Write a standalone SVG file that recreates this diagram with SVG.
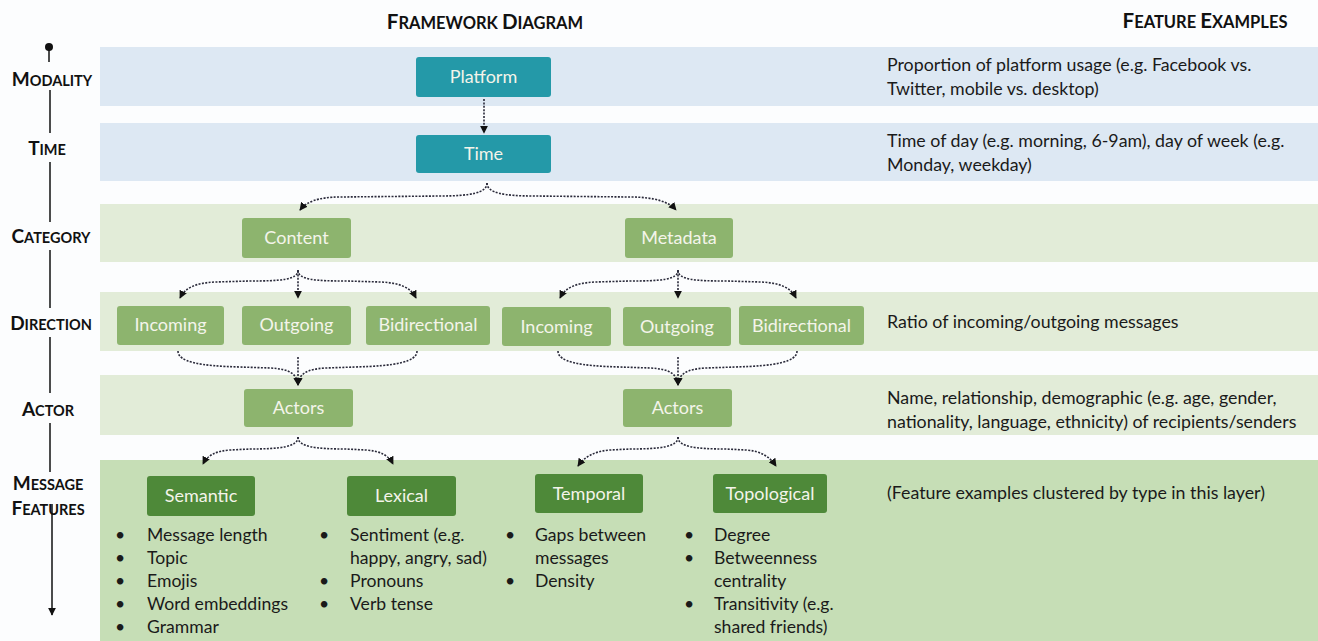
<svg xmlns="http://www.w3.org/2000/svg" width="1318" height="641" viewBox="0 0 1318 641">
<defs>
<style>
.hdr{font-family:Lato,"Liberation Sans",sans-serif;font-weight:bold;fill:#111;}
.lbl{font-family:Lato,"Liberation Sans",sans-serif;font-weight:bold;fill:#111;text-anchor:middle;}
.big{font-size:19px;}
.sm{font-size:14.5px;}
.nd{font-family:Lato,"Liberation Sans",sans-serif;font-size:18px;fill:#F4F4EA;text-anchor:middle;}
.ex{font-family:Lato,"Liberation Sans",sans-serif;font-size:17.8px;fill:#1a1a1a;}
.bl{font-family:Lato,"Liberation Sans",sans-serif;font-size:17.6px;fill:#1a1a1a;}
.teal{fill:#2499A8;}
.lg{fill:#8DB46E;}
.dg{fill:#4E8939;}
.con{fill:none;stroke:#2a2a3a;stroke-width:1.6;stroke-dasharray:2 1.4;marker-end:url(#ah);}
.axis{stroke:#111;stroke-width:1.5;fill:none;}
</style>
<marker id="ah" viewBox="0 0 10 10" refX="9" refY="5" markerWidth="8" markerHeight="8" markerUnits="userSpaceOnUse" orient="auto">
<path d="M0,0 L10,5 L0,10 z" fill="#111"/>
</marker>
<marker id="axh" viewBox="0 0 10 10" refX="9" refY="5" markerWidth="8" markerHeight="8" markerUnits="userSpaceOnUse" orient="auto">
<path d="M0,0 L10,5 L0,10 z" fill="#111"/>
</marker>
</defs>
<rect x="0" y="0" width="1318" height="641" fill="#FCFDFE"/>

<g id="bands">
<rect x="100" y="47" width="1218" height="59" fill="#DDE8F3"/>
<rect x="100" y="123" width="1218" height="58" fill="#DDE8F3"/>
<rect x="100" y="204" width="1218" height="58" fill="#E2ECD8"/>
<rect x="100" y="292" width="1218" height="59" fill="#E2ECD8"/>
<rect x="100" y="375" width="1218" height="60" fill="#E2ECD8"/>
<rect x="100" y="460" width="1218" height="181" fill="#C6DEB6"/>
</g>

<g id="headers">
<text class="hdr" x="485" y="29" text-anchor="middle"><tspan font-size="20.5">F</tspan><tspan font-size="16.5">RAMEWORK </tspan><tspan font-size="20.5">D</tspan><tspan font-size="16.5">IAGRAM</tspan></text>
<text class="hdr" x="1205" y="28" text-anchor="middle"><tspan font-size="20.5">F</tspan><tspan font-size="16.5">EATURE </tspan><tspan font-size="20.5">E</tspan><tspan font-size="16.5">XAMPLES</tspan></text>
</g>

<g id="axis">
<circle cx="49" cy="47" r="4" fill="#111"/>
<line class="axis" x1="49" y1="47" x2="49" y2="62"/>
<line class="axis" x1="50" y1="90" x2="50" y2="133"/>
<line class="axis" x1="50" y1="162" x2="50" y2="222"/>
<line class="axis" x1="50" y1="250" x2="50" y2="308"/>
<line class="axis" x1="50" y1="337" x2="50" y2="393"/>
<line class="axis" x1="50" y1="423" x2="50" y2="472"/>
<line class="axis" x1="52" y1="504" x2="52" y2="615" marker-end="url(#axh)"/>
<text class="lbl" x="52" y="86"><tspan class="big">M</tspan><tspan class="sm">ODALITY</tspan></text>
<text class="lbl" x="47" y="155"><tspan class="big">T</tspan><tspan class="sm">IME</tspan></text>
<text class="lbl" x="51" y="243"><tspan class="big">C</tspan><tspan class="sm">ATEGORY</tspan></text>
<text class="lbl" x="51" y="330"><tspan class="big">D</tspan><tspan class="sm">IRECTION</tspan></text>
<text class="lbl" x="48" y="416"><tspan class="big">A</tspan><tspan class="sm">CTOR</tspan></text>
<text class="lbl" x="48" y="490"><tspan class="big">M</tspan><tspan class="sm">ESSAGE</tspan></text>
<text class="lbl" x="48" y="515"><tspan class="big">F</tspan><tspan class="sm">EATURES</tspan></text>
</g>

<g id="connectors">
<path class="con" d="M484,99 L484,133"/>
<path class="con" d="M487,183 C487,193 470,196 440,196 L340,197 C318,197 306,202 300,210"/>
<path class="con" d="M487,183 C487,193 504,196 534,196 L630,197 C655,197 669,202 676,210"/>
<path class="con" d="M298,270 C298,280 280,281 250,281 L215,282 C195,283 185,288 180,298"/>
<path class="con" d="M298,271 L298,298"/>
<path class="con" d="M298,270 C298,280 316,281 346,281 L381,282 C401,283 411,288 416,298"/>
<path class="con" d="M678,270 C678,280 660,281 630,281 L595,282 C575,283 565,288 560,298"/>
<path class="con" d="M678,271 L678,298"/>
<path class="con" d="M678,270 C678,280 696,281 726,281 L761,282 C781,283 791,288 796,298"/>
<path class="con" d="M178,351 C178,362 200,366 240,367 L270,368 C290,369 297,374 298,385"/>
<path class="con" d="M417,351 C417,362 395,366 355,367 L326,368 C306,369 299,374 298,385"/>
<path class="con" d="M298,357 L298,385"/>
<path class="con" d="M558,351 C558,362 580,366 620,367 L650,368 C670,369 677,374 678,385"/>
<path class="con" d="M797,351 C797,362 775,366 735,367 L706,368 C686,369 679,374 678,385"/>
<path class="con" d="M678,357 L678,385"/>
<path class="con" d="M298,437 C298,447 280,449 250,449 L230,450 C215,451 207,456 203,464"/>
<path class="con" d="M298,437 C298,447 316,449 346,449 L366,450 C381,451 389,456 393,464"/>
<path class="con" d="M678,437 C678,447 660,449 630,449 L610,450 C595,451 584,457 578,466"/>
<path class="con" d="M678,437 C678,447 696,449 726,449 L746,450 C761,451 770,457 776,466"/>
</g>

<g id="platform"><rect class="teal" x="416" y="57" width="135" height="40" rx="3"/><text class="nd" x="483.5" y="83">Platform</text></g>
<g id="time"><rect class="teal" x="416" y="135" width="135" height="38" rx="3"/><text class="nd" x="483.5" y="160">Time</text></g>
<g id="content"><rect class="lg" x="242" y="218" width="109" height="40" rx="3"/><text class="nd" x="296.5" y="244">Content</text></g>
<g id="metadata"><rect class="lg" x="625" y="218" width="108" height="40" rx="3"/><text class="nd" x="679" y="244">Metadata</text></g>
<g id="incoming1"><rect class="lg" x="117" y="306" width="107" height="39" rx="3"/><text class="nd" x="170.5" y="331">Incoming</text></g>
<g id="outgoing1"><rect class="lg" x="242" y="306" width="109" height="39" rx="3"/><text class="nd" x="296.5" y="331">Outgoing</text></g>
<g id="bidirectional1"><rect class="lg" x="366" y="306" width="124" height="39" rx="3"/><text class="nd" x="428" y="331">Bidirectional</text></g>
<g id="incoming2"><rect class="lg" x="502" y="307" width="109" height="39" rx="3"/><text class="nd" x="556.5" y="333">Incoming</text></g>
<g id="outgoing2"><rect class="lg" x="623" y="307" width="108" height="39" rx="3"/><text class="nd" x="677" y="333">Outgoing</text></g>
<g id="bidirectional2"><rect class="lg" x="739" y="306" width="125" height="39" rx="3"/><text class="nd" x="801.5" y="332">Bidirectional</text></g>
<g id="actors1"><rect class="lg" x="244" y="389" width="109" height="38" rx="3"/><text class="nd" x="298.5" y="414">Actors</text></g>
<g id="actors2"><rect class="lg" x="623" y="389" width="109" height="38" rx="3"/><text class="nd" x="677.5" y="414">Actors</text></g>
<g id="semantic"><rect class="dg" x="147" y="476" width="108" height="40" rx="3"/><text class="nd" x="201" y="502">Semantic</text></g>
<g id="lexical"><rect class="dg" x="347" y="476" width="109" height="40" rx="3"/><text class="nd" x="401.5" y="502">Lexical</text></g>
<g id="temporal"><rect class="dg" x="535" y="474" width="108" height="39" rx="3"/><text class="nd" x="589" y="500">Temporal</text></g>
<g id="topological"><rect class="dg" x="713" y="474" width="114" height="39" rx="3"/><text class="nd" x="770" y="500">Topological</text></g>

<g id="lists">
<g class="bl">
<text x="115" y="541">•</text><text x="147" y="541">Message length</text>
<text x="115" y="564">•</text><text x="147" y="564">Topic</text>
<text x="115" y="587">•</text><text x="147" y="587">Emojis</text>
<text x="115" y="610">•</text><text x="147" y="610">Word embeddings</text>
<text x="115" y="633">•</text><text x="147" y="633">Grammar</text>
<text x="319" y="541">•</text><text x="350" y="541">Sentiment (e.g.</text>
<text x="350" y="564">happy, angry, sad)</text>
<text x="319" y="587">•</text><text x="350" y="587">Pronouns</text>
<text x="319" y="610">•</text><text x="350" y="610">Verb tense</text>
<text x="505" y="541">•</text><text x="535" y="541">Gaps between</text>
<text x="535" y="564">messages</text>
<text x="505" y="587">•</text><text x="535" y="587">Density</text>
<text x="684" y="541">•</text><text x="714" y="541">Degree</text>
<text x="684" y="564">•</text><text x="714" y="564">Betweenness</text>
<text x="714" y="587">centrality</text>
<text x="684" y="610">•</text><text x="714" y="610">Transitivity (e.g.</text>
<text x="714" y="633">shared friends)</text>
</g>
</g>

<g id="examples" class="ex">
<text x="887" y="71">Proportion of platform usage (e.g. Facebook vs.</text>
<text x="887" y="95">Twitter, mobile vs. desktop)</text>
<text x="887" y="147">Time of day (e.g. morning, 6-9am), day of week (e.g.</text>
<text x="887" y="171">Monday, weekday)</text>
<text x="887" y="328">Ratio of incoming/outgoing messages</text>
<text x="887" y="404">Name, relationship, demographic (e.g. age, gender,</text>
<text x="887" y="428">nationality, language, ethnicity) of recipients/senders</text>
<text x="887" y="499">(Feature examples clustered by type in this layer)</text>
</g>
</svg>
